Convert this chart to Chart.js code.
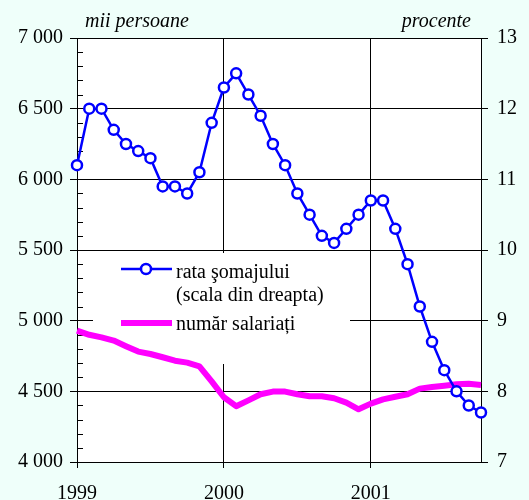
<!DOCTYPE html>
<html>
<head>
<meta charset="utf-8">
<script src="https://cdn.jsdelivr.net/npm/chart.js@4"></script>
<style>
  html, body { margin: 0; padding: 0; background: #effffa; }
  canvas { display: block; }
</style>
</head>
<body>
<canvas id="chart" width="529" height="500"></canvas>
<script>
const months = [
  '1999-01', '1999-02', '1999-03', '1999-04', '1999-05', '1999-06', '1999-07', '1999-08', '1999-09', '1999-10', '1999-11', '1999-12',
  '2000-01', '2000-02', '2000-03', '2000-04', '2000-05', '2000-06', '2000-07', '2000-08', '2000-09', '2000-10', '2000-11', '2000-12',
  '2001-01', '2001-02', '2001-03', '2001-04', '2001-05', '2001-06', '2001-07', '2001-08', '2001-09', '2001-10'
];
const yearLabels = ['1999', '2000', '2001'];

// rata somajului, procente (scala din dreapta)
const unemploymentRate = [
  11.2, 12.0, 12.0, 11.7, 11.5, 11.4, 11.3, 10.9, 10.9, 10.8, 11.1, 11.8,
  12.3, 12.5, 12.2, 11.9, 11.5, 11.2, 10.8, 10.5, 10.2, 10.1, 10.3, 10.5,
  10.7, 10.7, 10.3, 9.8, 9.2, 8.7, 8.3, 8.0, 7.8, 7.7
];

// numar salariati, mii persoane (scala din stanga)
const employees = [
  4930, 4900, 4882, 4859, 4819, 4781, 4764, 4741, 4717, 4703, 4677, 4570,
  4458, 4395, 4436, 4479, 4498, 4498, 4479, 4465, 4465, 4451, 4420, 4373,
  4413, 4443, 4462, 4479, 4519, 4531, 4540, 4550, 4554, 4545
];

const serif = '"Liberation Serif", "DejaVu Serif", serif';

function spaced(v) {
  return String(v).replace(/\B(?=(\d{3})+(?!\d))/g, ' ');
}

const backdrop = {
  id: 'backdrop',
  beforeDraw(chart) {
    const { ctx, chartArea: a } = chart;
    ctx.save();
    ctx.fillStyle = '#effffa';
    ctx.fillRect(0, 0, chart.width, chart.height);
    ctx.fillStyle = '#ffffff';
    ctx.fillRect(a.left, a.top, a.right - a.left, a.bottom - a.top);
    ctx.restore();
  },
  beforeDatasetsDraw(chart) {
    const { ctx, chartArea: a, scales } = chart;
    ctx.save();
    // minor ticks on the left axis
    ctx.strokeStyle = '#000';
    ctx.lineWidth = 1;
    for (let v = 4100; v < 7000; v += 100) {
      if (v % 500 === 0) continue;
      const y = Math.round(scales.yL.getPixelForValue(v)) + 0.5;
      ctx.beginPath();
      ctx.moveTo(a.left, y);
      ctx.lineTo(a.left + 6, y);
      ctx.stroke();
    }
    // legend box
    ctx.fillStyle = '#ffffff';
    ctx.fillRect(93, 253, 257, 111);
    ctx.strokeStyle = '#0000ff';
    ctx.lineWidth = 2.5;
    ctx.beginPath();
    ctx.moveTo(121, 269);
    ctx.lineTo(172, 269);
    ctx.stroke();
    ctx.beginPath();
    ctx.arc(146, 269, 5, 0, Math.PI * 2);
    ctx.fillStyle = '#ffffff';
    ctx.fill();
    ctx.stroke();
    ctx.strokeStyle = '#ff00ff';
    ctx.lineWidth = 6;
    ctx.beginPath();
    ctx.moveTo(121, 323);
    ctx.lineTo(172, 323);
    ctx.stroke();
    ctx.fillStyle = '#000';
    ctx.font = '20px ' + serif;
    ctx.textAlign = 'left';
    ctx.textBaseline = 'alphabetic';
    ctx.fillText('rata şomajului', 176, 278);
    ctx.fillText('(scala din dreapta)', 176, 301);
    ctx.fillText('număr salariați', 176, 330);
    ctx.restore();
  },
  afterDraw(chart) {
    const { ctx } = chart;
    ctx.save();
    ctx.fillStyle = '#000';
    ctx.font = 'italic 20px ' + serif;
    ctx.textBaseline = 'alphabetic';
    ctx.textAlign = 'left';
    ctx.fillText('mii persoane', 85, 27);
    ctx.textAlign = 'right';
    ctx.fillText('procente', 471, 27);
    ctx.restore();
  }
};

new Chart(document.getElementById('chart'), {
  type: 'line',
  data: {
    labels: months,
    datasets: [
      {
        label: 'rata şomajului',
        data: unemploymentRate,
        yAxisID: 'yR',
        borderColor: '#0000ff',
        borderWidth: 2.5,
        pointRadius: 5,
        pointBorderWidth: 2.5,
        pointBackgroundColor: '#ffffff',
        pointBorderColor: '#0000ff',
        tension: 0,
        clip: false,
      },
      {
        label: 'număr salariați',
        data: employees,
        yAxisID: 'yL',
        borderColor: '#ff00ff',
        borderWidth: 6,
        borderJoinStyle: 'round',
        pointRadius: 0,
        tension: 0,
        clip: false,
      },
    ],
  },
  options: {
    responsive: false,
    animation: false,
    layout: { padding: { top: 38, left: 0, right: 0, bottom: 0 } },
    plugins: { legend: { display: false }, tooltip: { enabled: false } },
    scales: {
      x: {
        type: 'category',
        offset: false,
        afterFit(s) { s.height = 38; },
        border: { display: true, color: '#000', width: 1 },
        grid: {
          color: c => (c.index % 12 === 0 ? '#000' : 'rgba(0,0,0,0)'),
          tickLength: 6,
        },
        ticks: {
          autoSkip: false,
          maxRotation: 0,
          padding: 14,
          color: '#000',
          font: { family: serif, size: 20 },
          callback: (v, i) => (i % 12 === 0 ? yearLabels[i / 12] : ''),
        },
      },
      yL: {
        position: 'left',
        min: 4000,
        max: 7000,
        afterFit(s) { s.width = 77; },
        border: { display: true, color: '#000', width: 1 },
        grid: { color: '#000', tickLength: 7 },
        ticks: {
          stepSize: 500,
          padding: 7,
          color: '#000',
          font: { family: serif, size: 20 },
          callback: v => spaced(v),
        },
      },
      yR: {
        position: 'right',
        min: 7,
        max: 13,
        afterFit(s) { s.width = 48; },
        border: { display: true, color: '#000', width: 1 },
        grid: { drawOnChartArea: false, color: '#000', tickLength: 7 },
        ticks: {
          stepSize: 1,
          padding: 9,
          color: '#000',
          font: { family: serif, size: 20 },
        },
      },
    },
  },
  plugins: [backdrop],
});
</script>
</body>
</html>
